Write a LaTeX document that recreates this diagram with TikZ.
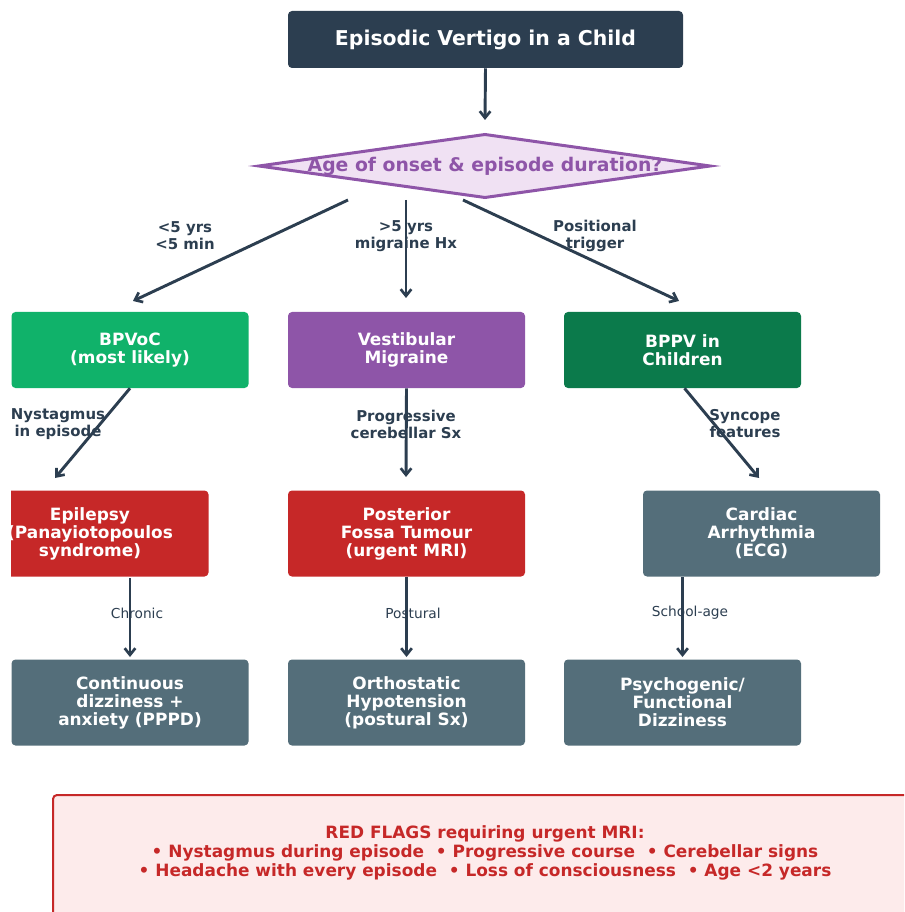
\documentclass[tikz,border=0pt]{standalone}
\usepackage{fontspec}
\setmainfont{DejaVu Sans}
\usetikzlibrary{arrows.meta}
\definecolor{navy}{HTML}{2C3E50}
\definecolor{dfill}{HTML}{F0E1F3}
\definecolor{dline}{HTML}{8E55A8}
\definecolor{lgreen}{HTML}{10B26A}
\definecolor{dgreen}{HTML}{0B7A4B}
\definecolor{mred}{HTML}{C62828}
\definecolor{slate}{HTML}{546E7A}
\definecolor{rfill}{HTML}{FDEBEB}
\tikzset{
  box/.style={rounded corners=3pt, inner sep=0pt, align=center, text=white,
    font=\bfseries\fontsize{12.7}{13.5}\selectfont},
  rowtwo/.style={box, minimum width=177.75pt, minimum height=57pt},
  rowthree/.style={box, minimum width=177.75pt, minimum height=64.5pt},
  arr/.style={draw=navy, line width=2.2pt, -{Straight Barb[length=5pt,width=8pt,line width=2pt]}},
  lbl/.style={text=navy, align=center, font=\bfseries\fontsize{11.2}{12.75}\selectfont},
  lbln/.style={text=navy, align=center, font=\fontsize{10.3}{12}\selectfont}
}
\begin{document}
\begin{tikzpicture}[x=0.75pt,y=-0.75pt]
\useasboundingbox (0,0) rectangle (904,912);
\clip (11,0) rectangle (904,912);
% title
\node[box, fill=navy, minimum width=296.25pt, minimum height=42.75pt,
  font=\bfseries\fontsize{15.3}{17}\selectfont] (title) at (485.5,39.5) {Episodic Vertigo in a Child};
% diamond
\coordinate (dl) at (259,166);
\coordinate (dt) at (485,134.5);
\coordinate (dr) at (710,166);
\coordinate (db) at (485,197.5);
\draw[draw=dline, fill=dfill, line width=2.25pt] (dl) -- (dt) -- (dr) -- (db) -- cycle;
\node[text=dline, font=\bfseries\fontsize{14.1}{16}\selectfont, inner sep=0pt] (q) at (485,166) {Age of onset \& episode duration?};
\coordinate (qin) at (485,120);
\draw[arr] (title.south) -- (qin);
% row 2
\node[rowtwo, fill=lgreen] (bpvoc) at (130,350) {BPVoC\\(most likely)};
\node[rowtwo, fill=dline] (vm) at (406.5,350) {Vestibular\\Migraine};
\node[rowtwo, fill=dgreen] (bppv) at (682.5,350) {BPPV in\\Children};
\coordinate (s1) at (348,200);
\coordinate (s2) at (406,200);
\coordinate (s3) at (463,200);
\coordinate (e1) at (133,301);
\coordinate (e2) at (406,298);
\coordinate (e3) at (679,301);
\draw[arr] (s1) -- (e1);
\draw[arr] (s2) -- (e2);
\draw[arr] (s3) -- (e3);
\node[lbl] (l1) at (185,236) {<5 yrs\\<5 min};
\node[lbl] (l2) at (406,236) {>5 yrs\\migraine Hx};
\node[lbl] (l3) at (595,236) {Positional\\trigger};
% row 3
\node[rowthree, fill=mred] (epi) at (90,533.5) {Epilepsy\\(Panayiotopoulos\\syndrome)};
\node[rowthree, fill=mred] (pft) at (406.5,533.5) {Posterior\\Fossa Tumour\\(urgent MRI)};
\node[rowthree, fill=slate] (card) at (761.5,533.5) {Cardiac\\Arrhythmia\\(ECG)};
\coordinate (f1) at (55,478);
\coordinate (f2) at (406,477);
\coordinate (f3) at (759,478);
\draw[arr] (bpvoc.south) -- (f1);
\draw[arr] (vm.south) -- (f2);
\draw[arr] ([xshift=1.5pt]bppv.south) -- (f3);
\node[lbl] (m1) at (58,424) {Nystagmus\\in episode};
\node[lbl] (m2) at (406,424) {Progressive\\cerebellar Sx};
\node[lbl] (m3) at (745,424) {Syncope\\features};
% row 4
\node[rowthree, fill=slate] (pppd) at (130,702.5) {Continuous\\dizziness +\\anxiety (PPPD)};
\node[rowthree, fill=slate] (oh) at (406.5,702.5) {Orthostatic\\Hypotension\\(postural Sx)};
\node[rowthree, fill=slate] (psy) at (682.5,702.5) {Psychogenic/\\Functional\\Dizziness};
\coordinate (a1) at (130,578);
\coordinate (g1) at (130,657);
\coordinate (g2) at (406.5,657);
\coordinate (g3) at (682.5,657);
\draw[arr] (a1) -- (g1);
\draw[arr] (pft.south) -- (g2);
\draw[arr] (card.south -| psy.north) -- (g3);
\node[lbln] (n1) at (137,613) {Chronic};
\node[lbln] (n2) at (413,613) {Postural};
\node[lbln] (n3) at (690,613) {School-age};
% red flags
\draw[draw=mred, fill=rfill, line width=1.5pt, rounded corners=3pt] (53,795) rectangle (980,980);
\node[text=mred, align=center, font=\bfseries\fontsize{12.7}{14.25}\selectfont] (rf) at (485,853)
  {RED FLAGS requiring urgent MRI:\\
   • Nystagmus during episode \ • Progressive course \ • Cerebellar signs\\
   • Headache with every episode \ • Loss of consciousness \ • Age <2 years};
\end{tikzpicture}
\end{document}
